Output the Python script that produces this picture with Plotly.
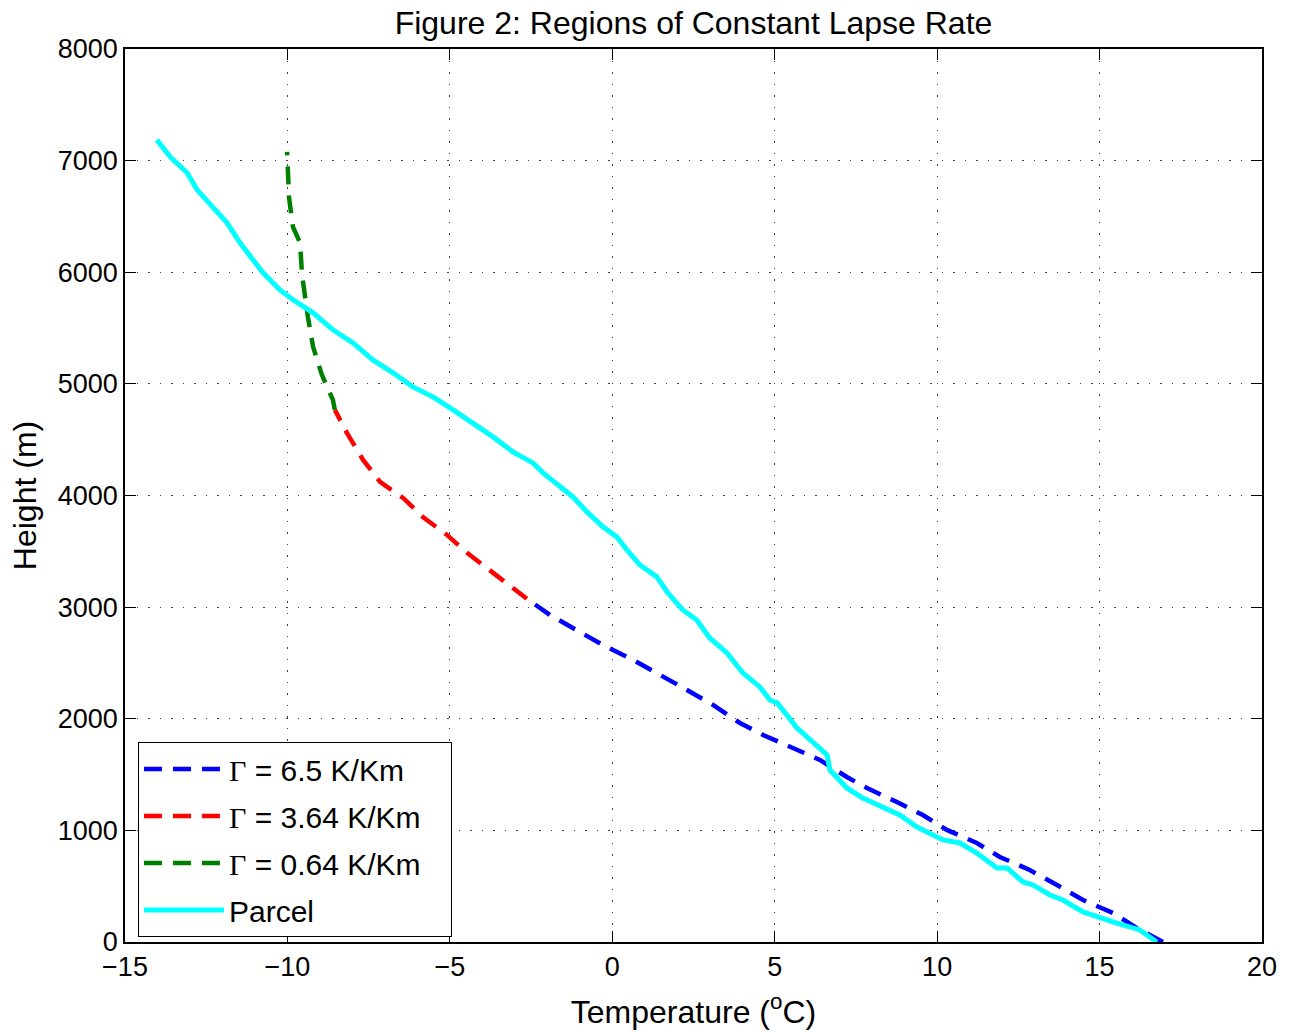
import plotly.graph_objects as go

# Γ = 6.5 K/Km segment
blue_T = [16.95, 16.15, 15.41, 14.49, 13.69, 12.85, 11.93, 11.22, 10.30, 9.56, 8.76, 7.84,
          7.22, 6.39, 5.56, 4.64, 3.93, 3.10, 2.30, 1.47, 0.64, -0.29, -1.09, -1.92, -2.63]
blue_h = [0, 125, 260, 376, 511, 645, 762, 887, 1004, 1138, 1254, 1380,
          1478, 1631, 1738, 1855, 1962, 2124, 2258, 2392, 2527, 2661, 2796, 2930, 3075]

# Γ = 3.64 K/Km segment
red_T = [-2.63, -2.90, -3.70, -4.47, -5.09, -5.83, -6.44, -7.15, -7.67, -8.17, -8.54]
red_h = [3075, 3136, 3306, 3486, 3647, 3808, 3978, 4122, 4319, 4561, 4767]

# Γ = 0.64 K/Km segment
green_T = [-8.54, -8.60, -8.94, -9.21, -9.37, -9.55, -9.61, -9.83, -9.95, -10.01, -10.01]
green_h = [4767, 4857, 5081, 5332, 5600, 5977, 6263, 6407, 6667, 6944, 7079]

# Parcel
parcel_T = [16.76, 16.24, 15.53, 14.92, 14.49, 13.87, 13.47, 12.95, 12.64, 12.15, 11.84, 11.22,
            10.70, 10.18, 9.87, 9.38, 8.85, 8.33, 7.71, 7.22, 6.91, 6.70, 6.61, 6.14, 5.68,
            5.25, 5.07, 4.85, 4.54, 4.02, 3.53, 3.00, 2.60, 2.17, 1.71, 1.37, 0.85, 0.45,
            0.14, -0.29, -0.78, -1.21, -1.61, -1.92, -2.13, -2.44, -3.06, -3.67, -4.29,
            -4.90, -5.52, -6.14, -6.75, -7.37, -7.98, -8.60, -9.21, -9.83, -10.23, -10.75,
            -11.06, -11.46, -11.86, -12.29, -12.78, -13.09, -13.61, -14.02]
parcel_h = [0, 108, 170, 224, 269, 376, 421, 511, 538, 663, 663, 797,
            887, 914, 959, 1030, 1138, 1210, 1290, 1380, 1470, 1541, 1676, 1792, 1918,
            2079, 2142, 2168, 2285, 2410, 2590, 2724, 2885, 2975, 3127, 3271, 3378, 3513,
            3629, 3719, 3853, 3987, 4077, 4158, 4203, 4292, 4391, 4525, 4651,
            4767, 4884, 4973, 5099, 5215, 5367, 5484, 5636, 5753, 5842, 5995,
            6111, 6263, 6443, 6586, 6738, 6891, 7034, 7186]

x_ticks = [-15, -10, -5, 0, 5, 10, 15, 20]
y_ticks = [0, 1000, 2000, 3000, 4000, 5000, 6000, 7000, 8000]

G = "<span style='font-family:Liberation Serif'>Γ</span>"
names = [G + " = 6.5 K/Km", G + " = 3.64 K/Km\u00a0\u00a0\u00a0", G + " = 0.64 K/Km", "Parcel"]

FONT = "Liberation Sans, Arial"
dash = "18px,11px"
fig = go.Figure()
fig.add_trace(go.Scatter(x=blue_T, y=blue_h, mode="lines", name=names[0], legendgroup="a",
                         line=dict(color="#0000ff", width=4.5, dash=dash)))
fig.add_trace(go.Scatter(x=red_T, y=red_h, mode="lines", name=names[1], legendgroup="b",
                         line=dict(color="#ff0000", width=4.5, dash=dash)))
fig.add_trace(go.Scatter(x=green_T, y=green_h, mode="lines", name=names[2], legendgroup="c",
                         line=dict(color="#008000", width=4.5, dash=dash)))
fig.add_trace(go.Scatter(x=parcel_T, y=parcel_h, mode="lines", name=names[3], legendgroup="d",
                         line=dict(color="#00ffff", width=5)))

axis_common = dict(
    showline=True, mirror="ticks", linecolor="black", linewidth=1.5,
    ticks="inside", ticklen=11, tickwidth=1, tickcolor="black",
    showgrid=True, gridcolor="rgba(0,0,0,0.75)", gridwidth=1, griddash="1.5px,10px",
    zeroline=False, automargin=False,
    tickfont=dict(family=FONT, size=27, color="black"),
)

fig.update_layout(
    width=1291, height=1032,
    margin=dict(l=125, r=29, t=49, b=90),
    paper_bgcolor="white", plot_bgcolor="white",
    font=dict(family=FONT, color="black"),
    title=dict(text="Figure 2: Regions of Constant Lapse Rate", x=0.5, xref="paper",
               y=1 - 23 / 1032, yanchor="middle", automargin=False,
               font=dict(size=32, family=FONT, color="black")),
    xaxis=dict(range=[-15, 20], tickvals=x_ticks,
               title=dict(text="Temperature (<sup>o</sup>C)", standoff=19,
                          font=dict(size=32, family=FONT)),
               **axis_common),
    yaxis=dict(range=[0, 8000], tickvals=y_ticks,
               title=dict(text="Height (m)", standoff=12,
                          font=dict(size=32, family=FONT)),
               **axis_common),
    legend=dict(x=0.0114, y=0.224, xanchor="left", yanchor="top",
                bgcolor="white", bordercolor="black", borderwidth=1,
                font=dict(size=30, family=FONT, color="black"),
                tracegroupgap=5, itemwidth=80),
    showlegend=True,
)

fig.write_html("out.html")
